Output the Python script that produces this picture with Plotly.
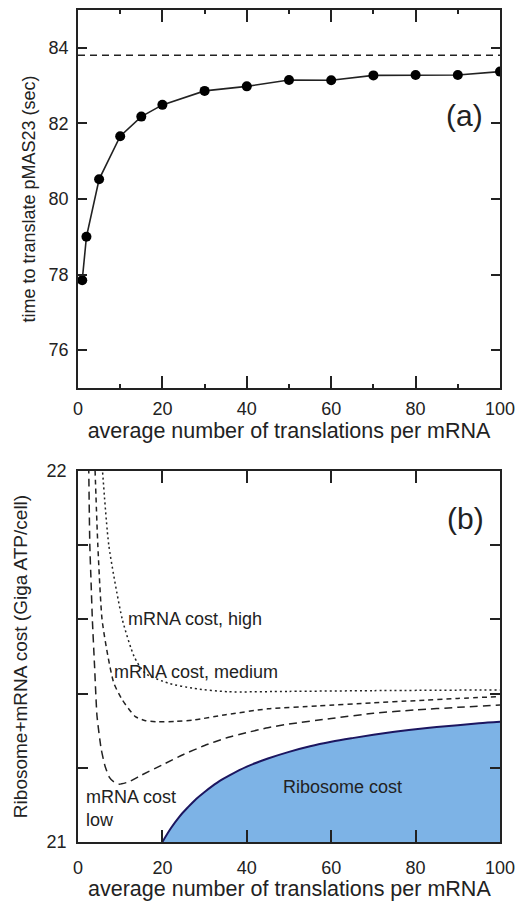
import plotly.graph_objects as go

# ---------------- Panel (a) data ----------------
a_x = [1, 2, 5, 10, 15, 20, 30, 40, 50, 60, 70, 80, 90, 100]
a_time = [77.85, 79.0, 80.52, 81.66, 82.18, 82.49, 82.86, 82.98, 83.15, 83.14, 83.27, 83.28, 83.28, 83.37]
a_limit_x = [0, 100]
a_limit_y = [83.8, 83.8]

# ---------------- Panel (b) data ----------------
rib_x = [20, 22, 24, 26, 28, 30, 33, 36, 40, 45, 50, 55, 60, 65, 70, 75, 80, 85, 90, 95, 100]
rib_y = [21.000, 21.037, 21.068, 21.093, 21.116, 21.135, 21.160, 21.180, 21.203, 21.225, 21.243,
         21.258, 21.270, 21.280, 21.289, 21.297, 21.304, 21.310, 21.315, 21.320, 21.324]

low_x = [2.5, 2.8, 3.1, 3.4, 3.9, 4.5, 5.5, 6.4, 7.4, 8.5, 9.7, 12, 15, 20, 25, 30, 35, 40, 45, 50, 60, 70, 80, 90, 100]
low_y = [22.05, 21.80, 21.70, 21.60, 21.48, 21.34, 21.25, 21.205, 21.175, 21.162, 21.156, 21.162, 21.180, 21.208,
         21.236, 21.26, 21.28, 21.295, 21.308, 21.318, 21.333, 21.347, 21.356, 21.363, 21.369]

med_x = [3.9, 4.7, 5.7, 7.1, 8.5, 10.5, 13.6, 16, 18.8, 23, 27.5, 35, 45, 57, 69.5, 80, 90, 100]
med_y = [22.05, 21.80, 21.60, 21.50, 21.428, 21.383, 21.338, 21.327, 21.324, 21.325, 21.329, 21.343,
         21.359, 21.367, 21.375, 21.381, 21.387, 21.392]

high_x = [5.5, 7.3, 10.5, 13.3, 15.9, 21.4, 27.5, 35.5, 50, 70, 100]
high_y = [22.05, 21.80, 21.60, 21.50, 21.455, 21.428, 21.414, 21.405, 21.406, 21.408, 21.41]

X_TITLE = "average number of translations per mRNA"

FONT = "Liberation Sans, Arial, Helvetica, sans-serif"
INK = "#222222"

fig = go.Figure()

# Panel (a)
fig.add_trace(go.Scatter(x=a_limit_x, y=a_limit_y, mode="lines",
                         line=dict(color=INK, width=1.5, dash="7px,5px"),
                         xaxis="x", yaxis="y", showlegend=False))
fig.add_trace(go.Scatter(x=a_x, y=a_time, mode="lines+markers",
                         line=dict(color=INK, width=1.6),
                         marker=dict(color="black", size=10),
                         xaxis="x", yaxis="y", showlegend=False))

# Panel (b)
fig.add_trace(go.Scatter(x=rib_x, y=rib_y, mode="lines", fill="tozeroy",
                         fillcolor="#7db3e6", line=dict(color="#1c1660", width=2, shape="spline"),
                         xaxis="x2", yaxis="y2", showlegend=False))
fig.add_trace(go.Scatter(x=low_x, y=low_y, mode="lines",
                         line=dict(color=INK, width=1.5, dash="8px,5px", shape="spline", smoothing=0.5),
                         xaxis="x2", yaxis="y2", showlegend=False))
fig.add_trace(go.Scatter(x=med_x, y=med_y, mode="lines",
                         line=dict(color=INK, width=1.5, dash="5px,4px", shape="spline", smoothing=0.6),
                         xaxis="x2", yaxis="y2", showlegend=False))
fig.add_trace(go.Scatter(x=high_x, y=high_y, mode="lines",
                         line=dict(color=INK, width=1.5, dash="2px,3px", shape="spline", smoothing=0.6),
                         xaxis="x2", yaxis="y2", showlegend=False))

axis_common = dict(showline=True, linecolor=INK, linewidth=1.5, mirror="ticks", automargin=False,
                   ticks="inside", tickcolor=INK, tickwidth=1.5, showgrid=False, zeroline=False,
                   tickfont=dict(size=18, color=INK, family=FONT))

fig.update_layout(
    width=532, height=904,
    margin=dict(l=78, r=32, t=10, b=62),
    plot_bgcolor="white", paper_bgcolor="white",
    font=dict(family=FONT, color=INK),
    xaxis=dict(domain=[0, 1], anchor="y", range=[0, 100], tickvals=[0, 20, 40, 60, 80, 100],
               ticklen=12, minor=dict(dtick=10, ticklen=4, ticks="inside", tickcolor=INK),
               ticklabelstandoff=4,
               title=dict(text=X_TITLE, font=dict(size=21.5), standoff=0),
               **axis_common),
    yaxis=dict(domain=[0.5457, 1.0], anchor="x", range=[75, 85], tickvals=[76, 78, 80, 82, 84],
               ticklen=9, ticklabelstandoff=4,
               title=dict(text="time to translate pMAS23 (sec)", font=dict(size=18), standoff=8),
               **axis_common),
    xaxis2=dict(domain=[0, 1], anchor="y2", range=[0, 100], tickvals=[0, 20, 40, 60, 80, 100],
                ticklen=12, ticklabelstandoff=9,
                **axis_common),
    yaxis2=dict(domain=[0, 0.4459], anchor="x2", range=[21, 22],
                tickvals=[21, 21.2, 21.4, 21.6, 21.8, 22], ticktext=["21", "", "", "", "", "22"],
                ticklen=10, ticklabelstandoff=6,
                title=dict(text="Ribosome+mRNA cost (Giga ATP/cell)", font=dict(size=19), standoff=14),
                **axis_common),
)

ann = [
    dict(text="(a)", x=91.7, y=82.21, xref="x", yref="y", font=dict(size=30)),
    dict(text="(b)", x=91.9, y=21.871, xref="x2", yref="y2", font=dict(size=30)),
    dict(text="mRNA cost, high", x=11.4, y=21.6, xref="x2", yref="y2", xanchor="left", font=dict(size=18)),
    dict(text="mRNA cost, medium", x=8.1, y=21.458, xref="x2", yref="y2", xanchor="left", font=dict(size=18)),
    dict(text="mRNA cost<br>low", x=1.4, y=21.089, xref="x2", yref="y2", xanchor="left", align="left",
         font=dict(size=18)),
    dict(text="Ribosome cost", x=62.6, y=21.148, xref="x2", yref="y2", font=dict(size=18)),
    # bottom-panel x-axis title
    dict(text=X_TITLE, x=0.5, y=-0.0565, xref="paper", yref="paper", yanchor="middle",
         font=dict(size=21.5)),
]
for a in ann:
    a.setdefault("showarrow", False)
    a["font"].update(color=INK, family=FONT)
fig.update_layout(annotations=ann)

fig.write_html("out.html")
